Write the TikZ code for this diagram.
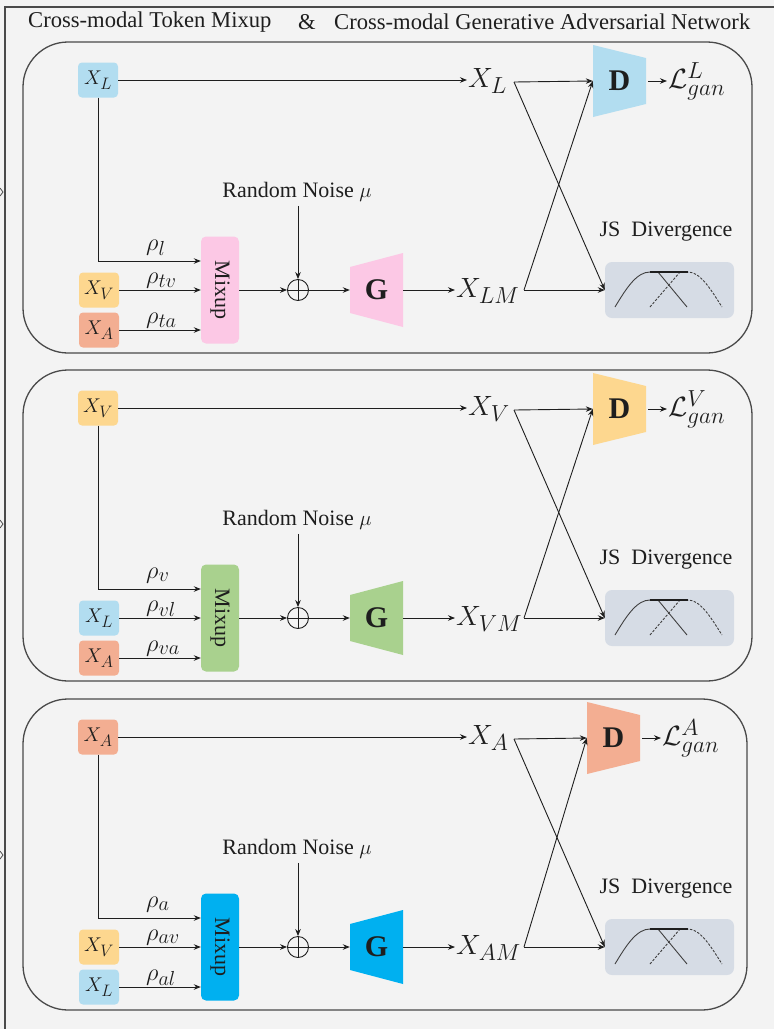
\documentclass[tikz,border=0pt]{standalone}
\usepackage{graphicx}
\usepackage{fontspec}
\setmainfont{Liberation Serif}
\usetikzlibrary{arrows.meta,calc}
\definecolor{bg}{HTML}{F3F3F3}
\definecolor{cL}{HTML}{B2DDF0}
\definecolor{cV}{HTML}{FDD78F}
\definecolor{cA}{HTML}{F3AE92}
\definecolor{cpink}{HTML}{FCC8E5}
\definecolor{cgreen}{HTML}{A9D18E}
\definecolor{cblue}{HTML}{00B0F0}
\definecolor{cjs}{HTML}{D6DCE5}
\definecolor{edge}{HTML}{4A4A4A}
\definecolor{ink}{HTML}{1E1E1E}
\newcommand{\smath}[2]{\scalebox{#1}{$#2$}}
\begin{document}
\begin{tikzpicture}[x=1pt,y=-1pt,
  arr/.style={-{Stealth[length=7pt,width=5.5pt]}, line width=0.9pt, draw=ink},
  mfont/.style={font=\fontsize{24.88}{28}\selectfont},
  inbox/.style={mfont, rounded corners=4pt, minimum width=40pt, minimum height=35pt, inner sep=0pt, text=ink},
  mixbox/.style={rounded corners=5pt, minimum width=38pt, minimum height=107pt, inner sep=0pt, font=\fontsize{22}{24}\selectfont, text=ink},
  big/.style={mfont, inner sep=1pt, text=ink},
  rho/.style={mfont, inner sep=0pt, text=ink},
  lbl/.style={font=\fontsize{22}{24}\selectfont, inner sep=1pt, text=ink},
  ttl/.style={font=\fontsize{22.6}{24}\selectfont, inner sep=1pt, text=ink},
  bold/.style={font=\fontsize{30}{32}\selectfont\bfseries, inner sep=0pt, text=ink},
  panel/.style={draw=edge, line width=1.3pt, fill=bg, rounded corners=45pt},
  plus/.style={circle, draw=ink, line width=0.9pt, minimum size=21pt, inner sep=0pt,
    path picture={\draw[ink, line width=0.9pt] (path picture bounding box.north) -- (path picture bounding box.south) (path picture bounding box.west) -- (path picture bounding box.east);}},
  curve/.style={line width=0.9pt, draw=ink!85}
]
\fill[bg] (0,0) rectangle (774,1029);
\useasboundingbox (0,0) rectangle (774,1029);
\draw[line width=1.8pt, edge] (5,1040) -- (5,7) -- (790,7);
\foreach \yy in {192,524,855}{
  \draw[line width=0.8pt, edge] (0,\yy-4) -- (3,\yy) -- (0,\yy+4);
}
\node[ttl, anchor=west] (title1) at (27,22) {Cross-modal Token Mixup};
\node[ttl] (amp) at (307,22) {\&};
\node[ttl, anchor=west] (title2) at (333,22) {Cross-modal Generative Adversarial Network};

\foreach \vo/\vp/\vct/\vcb/\vlb/\vcc/\vlc/\vcm/\vra/\vrb/\vrc/\vgl/\vdx/\vrr in {
  0/a/cL/cV/{X_V}/cA/{X_A}/cpink/{\rho_l}/{\rho_{tv}}/{\rho_{ta}}/L/0/752,
  328/b/cV/cL/{X_L}/cA/{X_A}/cgreen/{\rho_v}/{\rho_{vl}}/{\rho_{va}}/V/0/752,
  657/c/cA/cV/{X_V}/cL/{X_L}/cblue/{\rho_a}/{\rho_{av}}/{\rho_{al}}/A/-6/747}{
  % panel frame
  \draw[panel] (23,42+\vo) rectangle (\vrr,353+\vo);
  % input boxes
  \node[inbox, fill=\vct] (\vp top) at (98,80+\vo) {\smath{0.8}{X_{\vgl}}};
  \node[inbox, fill=\vcb] (\vp b2) at (99,290+\vo) {\smath{0.8}{\vlb}};
  \node[inbox, fill=\vcc] (\vp b3) at (99,330+\vo) {\smath{0.8}{\vlc}};
  \node[mixbox, fill=\vcm] (\vp mix) at (220,290+\vo) {\rotatebox{-90}{Mixup}};
  % rho labels
  \node[rho, anchor=base west] (\vp r1) at (146,250+\vo) {\smath{0.98}{\vra}};
  \node[rho, anchor=base west] (\vp r2) at (146,283+\vo) {\smath{0.98}{\vrb}};
  \node[rho, anchor=base west] (\vp r3) at (146,323+\vo) {\smath{0.98}{\vrc}};
  % arrows into mixup
  \draw[arr] (\vp top.south) |- ([yshift=29pt]\vp mix.west);
  \draw[arr] (\vp b2.east) -- (\vp b2.east -| \vp mix.west);
  \draw[arr] (\vp b3.east) -- (\vp b3.east -| \vp mix.west);
  % noise and plus
  \node[plus] (\vp plus) at (298,290+\vo) {};
  \node[lbl] (\vp noise) at (297,192+\vo) {Random Noise $\mu$};
  \draw[arr] ([yshift=-3pt]\vp noise.south -| \vp plus.north) -- (\vp plus.north);
  \draw[arr] (\vp mix.east) -- (\vp plus.west);
  % generator
  \node[minimum width=53pt, minimum height=74pt, inner sep=0pt] (\vp G) at (376.5,290+\vo) {};
  \fill[\vcm] (350,267+\vo) -- (403,253+\vo) -- (403,327+\vo) -- (350,313+\vo) -- cycle;
  \node[bold] (\vp Gl) at (\vp G) {G};
  \draw[arr] (\vp plus.east) -- (\vp G.west);
  % generated and real tokens
  \node[big, anchor=west] (\vp xm) at (455,291+\vo) {\smath{1.12}{X_{\vgl M}}};
  \node[big, anchor=west] (\vp xt) at (467,81+\vo) {\smath{1.12}{X_{\vgl}}};
  \draw[arr] (\vp G.east) -- (\vp G.east -| \vp xm.west);
  \draw[arr] (\vp top.east) -- (\vp top.east -| \vp xt.west);
  \coordinate (\vp c1) at (514,82+\vo);
  \coordinate (\vp c2) at (524,290+\vo);
  % discriminator
  \node[minimum width=53pt, minimum height=72pt, inner sep=0pt] (\vp D) at (619.5+\vdx,81+\vo) {};
  \fill[\vct] (593+\vdx,45+\vo) -- (646+\vdx,58+\vo) -- (646+\vdx,104+\vo) -- (593+\vdx,117+\vo) -- cycle;
  \node[bold] (\vp Dl) at (\vp D) {D};
  \node[big, anchor=west] (\vp gan) at (667+\vdx,81+\vo) {\smath{1.12}{\mathcal{L}^{\vgl}_{gan}}};
  \draw[arr] ([xshift=2pt]\vp D.east) -- (\vp D.east -| \vp gan.west);
  % JS divergence
  \node[lbl] (\vp jst) at (666,232+\vo) {JS\ \ Divergence};
  \node[fill=cjs, rounded corners=7pt, minimum width=129pt, minimum height=56pt, inner sep=0pt] (\vp js) at (669.5,290+\vo) {};
  \draw[curve] (615,307+\vo) .. controls (627,287+\vo) and (637,272+\vo) .. (650,272+\vo) -- (658,272+\vo) -- (687,307+\vo);
  \draw[curve, dash pattern=on 2.5pt off 1.5pt] (650,307+\vo) -- (680,272+\vo) -- (688,272+\vo) .. controls (700,272+\vo) and (710,288+\vo) .. (722,307+\vo);
  \draw[line width=2pt, ink] (650,272+\vo) -- (688,272+\vo);
  % crossing connectors
  \draw[arr] (\vp c1) -- (\vp D.west);
  \draw[arr] (\vp c1) -- (\vp js.west);
  \draw[arr] (\vp c2) -- (\vp js.west);
  \draw[arr] (\vp c2) -- (\vp D.west);
}
\end{tikzpicture}
\end{document}
